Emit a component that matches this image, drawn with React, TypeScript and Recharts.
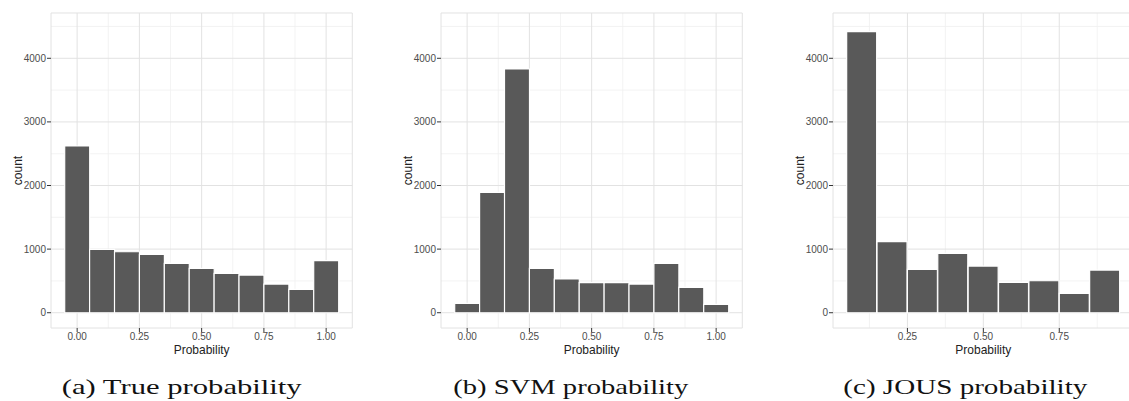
import { BarChart, Bar, XAxis, YAxis, CartesianGrid, ReferenceArea } from 'recharts';

// bin centres and counts
const binCentres = [0, 0.1, 0.2, 0.3, 0.4, 0.5, 0.6, 0.7, 0.8, 0.9, 1.0];
const trueCounts = [2621, 996, 959, 917, 776, 697, 619, 592, 451, 367, 818];
const svmCounts = [147, 1893, 3832, 697, 530, 472, 472, 451, 776, 398, 131];

const jousCentres = [0.1, 0.2, 0.3, 0.4, 0.5, 0.6, 0.7, 0.8, 0.9];
const jousCounts = [4419, 1117, 682, 933, 734, 477, 503, 304, 671];

const fullTicks = [0, 0.25, 0.5, 0.75, 1];
const jousTicks = [0.25, 0.5, 0.75];
const minorXTicks = [0.125, 0.375, 0.625, 0.875];
const countTicks = [0, 1000, 2000, 3000, 4000];
const minorCountTicks = [500, 1500, 2500, 3500, 4500];

const captions = ['(a) True probability', '(b) SVM probability', '(c) JOUS probability'];

const Y_DOMAIN: [number, number] = [-240, 4712];
const PLOT_TOP = 13;
const CHART_H = 360;
const Y_AXIS_W = 67;
const X_AXIS_H = 32;

interface PanelProps {
  centres: number[];
  counts: number[];
  xDomain: [number, number];
  xTicks: number[];
  plotLeft: number;
  plotWidth: number;
}

function Panel({ centres, counts, xDomain, xTicks, plotLeft, plotWidth }: PanelProps) {
  const data = centres.map((p, i) => ({ p, count: counts[i] }));
  const width = Y_AXIS_W + plotWidth + 10;

  return (
    <div style={{ position: 'absolute', left: plotLeft - Y_AXIS_W, top: 0 }}>
      <BarChart
        width={width}
        height={CHART_H}
        data={data}
        margin={{ top: PLOT_TOP, right: 10, left: 0, bottom: 0 }}
        barCategoryGap={0}
        barGap={0}
      >
        <CartesianGrid
          stroke="#f0f0f0"
          strokeWidth={0.8}
          horizontalValues={minorCountTicks}
          verticalValues={minorXTicks}
        />
        <CartesianGrid
          stroke="#e2e2e2"
          strokeWidth={1}
          horizontalValues={countTicks}
          verticalValues={xTicks}
        />
        <ReferenceArea
          x1={xDomain[0]}
          x2={xDomain[1]}
          y1={Y_DOMAIN[0]}
          y2={Y_DOMAIN[1]}
          fill="none"
          stroke="#e2e2e2"
          ifOverflow="visible"
        />
        <XAxis
          dataKey="p"
          type="number"
          domain={xDomain}
          allowDataOverflow
          ticks={xTicks}
          tickFormatter={(v: number) => v.toFixed(2)}
          axisLine={false}
          tickSize={4}
          tickMargin={1}
          tickLine={{ stroke: '#333333' }}
          tick={{ fontSize: 10, fill: '#4d4d4d', fontFamily: 'Liberation Sans, Arial, sans-serif' }}
          height={X_AXIS_H}
          label={{
            value: 'Probability',
            position: 'insideBottom',
            offset: 6,
            fontSize: 12,
            fill: '#222222',
            fontFamily: 'Liberation Sans, Arial, sans-serif',
          }}
        />
        <YAxis
          type="number"
          domain={Y_DOMAIN}
          allowDataOverflow
          ticks={countTicks}
          axisLine={false}
          tickSize={4}
          tickMargin={1}
          tickLine={{ stroke: '#333333' }}
          tick={{ fontSize: 10, fill: '#4d4d4d', fontFamily: 'Liberation Sans, Arial, sans-serif' }}
          width={Y_AXIS_W}
          label={{
            value: 'count',
            angle: -90,
            position: 'center',
            fontSize: 12,
            fill: '#222222',
            fontFamily: 'Liberation Sans, Arial, sans-serif',
          }}
        />
        <Bar
          dataKey="count"
          fill="#595959"
          stroke="#ffffff"
          strokeWidth={1.2}
          isAnimationActive={false}
        />
      </BarChart>
    </div>
  );
}

export default function App() {
  return (
    <div
      style={{
        position: 'absolute',
        left: 0,
        top: 0,
        width: 1129,
        height: 401,
        overflow: 'hidden',
        background: '#ffffff',
      }}
    >
      <Panel
        centres={binCentres}
        counts={trueCounts}
        xDomain={[-0.105, 1.105]}
        xTicks={fullTicks}
        plotLeft={50.5}
        plotWidth={301.3}
      />
      <Panel
        centres={binCentres}
        counts={svmCounts}
        xDomain={[-0.105, 1.105]}
        xTicks={fullTicks}
        plotLeft={441.2}
        plotWidth={301.3}
      />
      <Panel
        centres={jousCentres}
        counts={jousCounts}
        xDomain={[0.005, 0.995]}
        xTicks={jousTicks}
        plotLeft={833.3}
        plotWidth={300.7}
      />
      <svg
        width={1129}
        height={401}
        style={{ position: 'absolute', left: 0, top: 0, pointerEvents: 'none' }}
      >
        {captions.map((c, i) => (
          <text
            key={c}
            x={[61.7, 453.3, 843.3][i]}
            y={394}
            fontSize={21.5}
            fontFamily="Liberation Serif, Times New Roman, serif"
            fill="#111111"
            textLength={[240, 235, 244][i]}
            lengthAdjust="spacingAndGlyphs"
          >
            {c}
          </text>
        ))}
      </svg>
    </div>
  );
}
